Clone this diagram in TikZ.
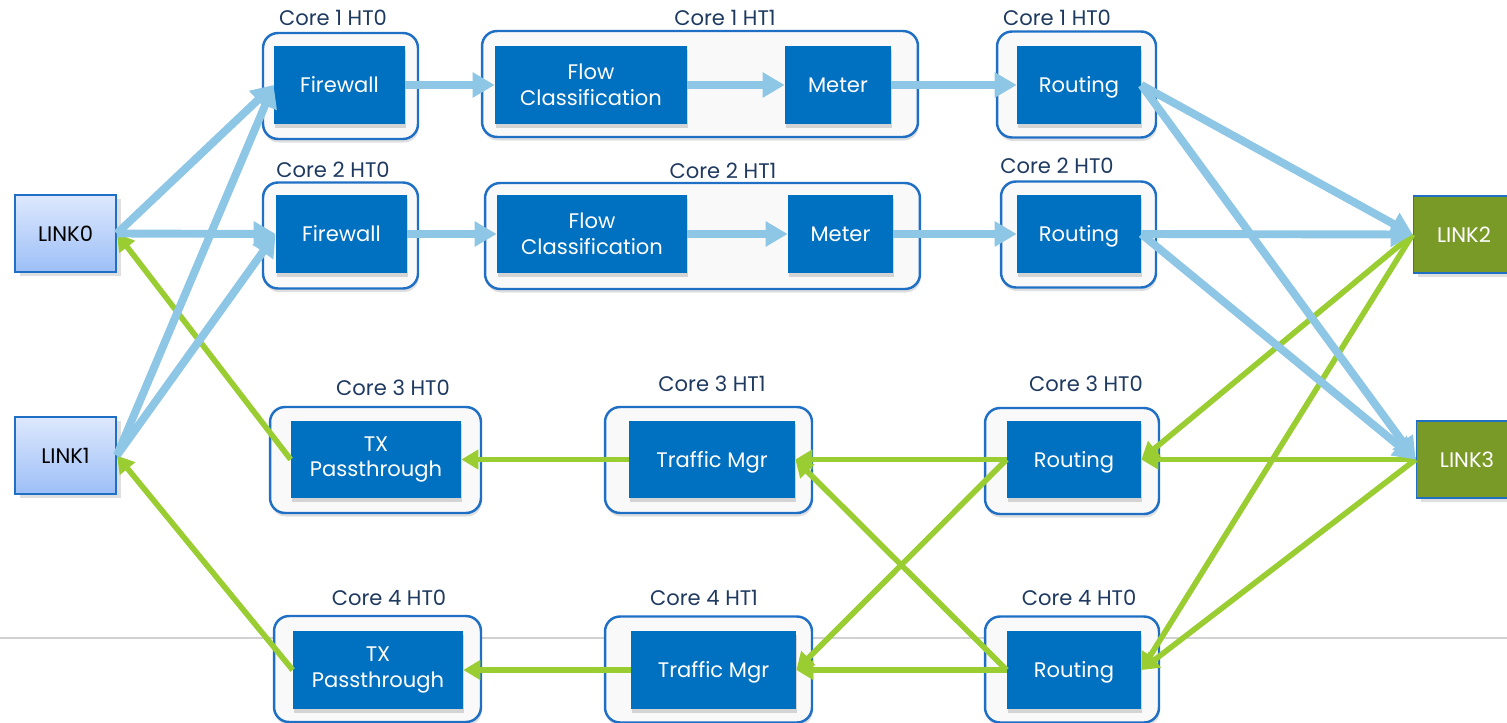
\documentclass[tikz,border=0pt]{standalone}
\usepackage{fontspec}
\setmainfont{Poppins}
\usepackage{xcolor}
\usepackage{tikz}
\usetikzlibrary{arrows.meta, shadows}

\definecolor{taskblue}{HTML}{0070C0}
\definecolor{coreedge}{HTML}{1F6FC5}
\definecolor{corefill}{HTML}{F9F9F9}
\definecolor{corenavy}{HTML}{1F3A60}
\definecolor{rxblue}{HTML}{8EC6E6}
\definecolor{txgreen}{HTML}{9ACD32}
\definecolor{linkgreen}{HTML}{7A9A28}
\definecolor{linktop}{HTML}{DDE8FD}
\definecolor{linkbot}{HTML}{9DBFF7}

\begin{document}
\begin{tikzpicture}[x=0.02cm, y=-0.02cm, font=\fontsize{12}{14.5}\selectfont,
  core/.style={draw=coreedge, line width=1.4pt, fill=corefill, rounded corners=0.3cm,
    minimum height=2.12cm, drop shadow={shadow xshift=0.5pt, shadow yshift=-2pt, opacity=0.25}},
  task/.style={fill=taskblue, text=white, align=center, minimum height=1.56cm, inner sep=0pt,
    drop shadow={shadow xshift=0.5pt, shadow yshift=-2pt, opacity=0.3}},
  lowtext/.style={text height=8.6pt, text depth=0pt},
  corelabel/.style={text=corenavy, inner sep=0pt},
  linkin/.style={draw=coreedge, line width=1pt, top color=linktop, bottom color=linkbot,
    minimum width=2.02cm, minimum height=1.54cm, drop shadow={shadow yshift=-2pt, opacity=0.25}},
  linkout/.style={draw=coreedge, line width=1pt, fill=linkgreen, text=white,
    minimum width=2.02cm, minimum height=1.54cm, drop shadow={shadow yshift=-2pt, opacity=0.25}},
  rx/.style={draw=rxblue, line width=4.5pt, -{Triangle[length=0.44cm, width=0.48cm]}},
  tx/.style={draw=txgreen, line width=3.2pt, -{Triangle[length=0.34cm, width=0.38cm]}}]
  \useasboundingbox (0,0) rectangle (1507,723);
  \clip (0,0) rectangle (1507,723);
  \draw[black!18, line width=0.6pt] (0,638) -- (1507,638);

  % core boxes
  \node[core, minimum width=3.1cm] (c1a) at (340.5,86) {};
  \node[core, minimum width=8.72cm] (c1b) at (700,84) {};
  \node[core, minimum width=3.18cm] (c1c) at (1076.5,84.5) {};
  \node[core, minimum width=3.1cm] (c2a) at (340.5,235.5) {};
  \node[core, minimum width=8.7cm] (c2b) at (702.5,236) {};
  \node[core, minimum width=3.1cm] (c2c) at (1078.5,234.5) {};
  \node[core, minimum width=4.22cm] (c3a) at (375.5,460) {};
  \node[core, minimum width=4.14cm] (c3b) at (708.5,460) {};
  \node[core, minimum width=3.48cm] (c3c) at (1072,461) {};
  \node[core, minimum width=4.14cm] (c4a) at (377.5,669) {};
  \node[core, minimum width=4.14cm] (c4b) at (708.5,669.5) {};
  \node[core, minimum width=3.48cm] (c4c) at (1072,669.5) {};

  \node[corelabel] (l1a) at (333,18) {Core 1 HT0};
  \node[corelabel] (l1b) at (725,18) {Core 1 HT1};
  \node[corelabel] (l1c) at (1057,18) {Core 1 HT0};
  \node[corelabel] (l2a) at (333,170) {Core 2 HT0};
  \node[corelabel] (l2b) at (723,171) {Core 2 HT1};
  \node[corelabel] (l2c) at (1057,166) {Core 2 HT0};
  \node[corelabel] (l3a) at (393,388) {Core 3 HT0};
  \node[corelabel] (l3b) at (712,384) {Core 3 HT1};
  \node[corelabel] (l3c) at (1086,384) {Core 3 HT0};
  \node[corelabel] (l4a) at (389,598) {Core 4 HT0};
  \node[corelabel] (l4b) at (704,598) {Core 4 HT1};
  \node[corelabel] (l4c) at (1079,598) {Core 4 HT0};

  % tasks
  \node[task, minimum width=2.62cm] (fw1) at (339.5,85) {Firewall};
  \node[task, minimum width=3.84cm] (flow1) at (591,85) {Flow\\Classification};
  \node[task, minimum width=2.12cm] (meter1) at (838,85) {Meter};
  \node[task, lowtext, minimum width=2.48cm] (rt1) at (1079,85) {Routing};
  \node[task, minimum width=2.62cm] (fw2) at (341.5,234) {Firewall};
  \node[task, minimum width=3.8cm] (flow2) at (592,234) {Flow\\Classification};
  \node[task, minimum width=2.1cm] (meter2) at (840.5,234) {Meter};
  \node[task, lowtext, minimum width=2.48cm] (rt2) at (1079,234) {Routing};
  \node[task, minimum width=3.4cm] (tx3) at (376,459.5) {TX\\Passthrough};
  \node[task, lowtext, minimum width=3.32cm] (tm3) at (712,459.5) {Traffic Mgr};
  \node[task, lowtext, minimum width=2.68cm] (rt3) at (1074,459.5) {Routing};
  \node[task, minimum width=3.4cm] (tx4) at (378,670) {TX\\Passthrough};
  \node[task, lowtext, minimum width=3.3cm] (tm4) at (713.5,670) {Traffic Mgr};
  \node[task, lowtext, minimum width=2.68cm] (rt4) at (1074,670) {Routing};

  % links
  \node[linkin] (link0) at (65.5,233.5) {LINK0};
  \node[linkin] (link1) at (65.5,455.5) {LINK1};
  \node[linkout] (link2) at (1464,234.5) {LINK2};
  \node[linkout] (link3) at (1467,459.5) {LINK3};

  % tx path
  \draw[tx] (tx3.west) -- (link0.east);
  \draw[tx] (tx4.west) -- (link1.east);
  \draw[tx] (tm3.west) -- (tx3.east);
  \draw[tx] (tm4.west) -- (tx4.east);
  \draw[tx] (rt3.west) -- (tm3.east);
  \draw[tx] (rt3.west) -- (tm4.east);
  \draw[tx] (rt4.west) -- (tm3.east);
  \draw[tx] (rt4.west) -- (tm4.east);
  \draw[tx] (link2.west) -- (rt3.east);
  \draw[tx] (link2.west) -- (rt4.east);
  \draw[tx] (link3.west) -- (rt3.east);
  \draw[tx] (link3.west) -- (rt4.east);

  % rx path
  \draw[rx] (link0.east) -- (fw1.west);
  \draw[rx] (link0.east) -- (fw2.west);
  \draw[rx] (link1.east) -- (fw1.west);
  \draw[rx] (link1.east) -- (fw2.west);
  \draw[rx] (fw1.east) -- (flow1.west);
  \draw[rx] (flow1.east) -- (meter1.west);
  \draw[rx] (meter1.east) -- (rt1.west);
  \draw[rx] (fw2.east) -- (flow2.west);
  \draw[rx] (flow2.east) -- (meter2.west);
  \draw[rx] (meter2.east) -- (rt2.west);
  \draw[rx] (rt1.east) -- (link2.west);
  \draw[rx] (rt1.east) -- (link3.west);
  \draw[rx] (rt2.east) -- (link2.west);
  \draw[rx] (rt2.east) -- (link3.west);
\end{tikzpicture}
\end{document}
